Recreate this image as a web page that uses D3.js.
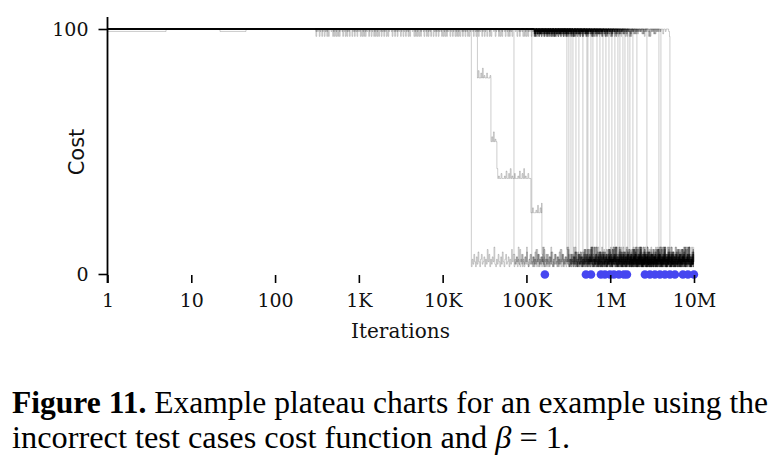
<!DOCTYPE html>
<html><head><meta charset="utf-8">
<script src="https://cdn.jsdelivr.net/npm/d3@7"></script>
<style>body{margin:0;background:#fff}svg{display:block}</style>
</head><body><svg id="c" width="771" height="462"></svg>
<script>
// ---------------- data ----------------
const xTickValues = [1, 10, 100, 1e3, 1e4, 1e5, 1e6, 1e7];
const xTickLabels = ["1", "10", "100", "1K", "10K", "100K", "1M", "10M"];
const yTickValues = [0, 100];
const maxIter = 1e7;
const noiseStart = 300;
const noiseSwitch = 120000;

// iteration at which each run leaves the ~100 plateau
const dropIters = [22000, 71000, 116000, 304000, 321000, 340000, 359000, 390000, 423000, 472000,
  527000, 542000, 589000, 622000, 695000, 754000, 819000, 889000, 966000, 1048000,
  1138000, 1236000, 1306000, 1418000, 1500000, 1626000, 1718000, 1866000, 2083000, 2743000,
  3814000, 4030000, 5160000];
// iteration at which each run hits cost 0 (null = never within 10M)
const solveIters = [513000, 589000, null, 775000, null, 865000, null, 993000, null, 1107000,
  null, 1270000, null, 1457000, null, 1583000, null, 2596000, null, 2979000,
  null, 3415000, null, 3918000, null, 4496000, null, 5160000, 5920000, 7370000,
  8460000, null, 9970000];
// per-run phase offsets into the texture arrays
const runPhase = [0, 41, 13, 77, 29, 58, 6, 90, 35, 71, 18, 52, 84, 3, 64, 25, 47, 11, 80, 38,
  60, 21, 95, 44, 9, 69, 31, 87, 15, 56, 74, 27, 49, 62];

// run with intermediate plateaus
const stepRunIters = [1, 26000, 37700, 44400, 113000, 153000];
const stepRunCosts = [100, 80, 54, 39, 25, 4];
const stepRunSolve = 166000;

// short early dips: [runIndex, fromIter, toIter, cost]
const earlyDips = [[3, 1, 5, 99], [7, 22, 45, 99]];

// observed fluctuation texture (cost units below 100 / above floor)
const topNoiseEarly = [0,0,0,0,0,0,0,0,0,0,0,0,1,0,0,0,0,0,0,0,0,0,0,0,0,0,0,0,0,0,0,0,0,0,0,0,0,0,0,0,0,0,0,0,0,0,0,0,0,0,0,0,0,0,0,0,0,0,0,0,0,0,0,0,0,0,0,0,0,0,0,0,0,0,0,0,0,0,0,0,0,0,0,0,0,3,0,0,0,0,0,0,0,0,0,0,0];
const topNoiseLate = [0,1,0,0,2,0,0,1,0,0,0,1,3,0,0,1,0,0,2,0,0,1,0];
const lowNoise = [3,6,4,8,5,3,7,4,9,5,3,6,8,4,5,7,3,6,4,10,5,8,3,6,4,7,5,11,4];
const plateauNoise = [0,0,1,0,3,0,0,2,0,4,0,1,0,0,2,0];

// ---------------- chart ----------------
const svg = d3.select("#c");
svg.append("rect").attr("width", 771).attr("height", 462).attr("fill", "#fff");

const x = d3.scaleLog().domain([1, 1e7]).range([107.5, 694]);
const y = d3.scaleLinear().domain([0, 100]).range([274, 29]);

const STEP = 0.01; // decades between samples
function sample(pts, a, b, fn) {
  for (let k = 0; ; k++) {
    const it = a * Math.pow(10, k * STEP);
    if (it >= b) break;
    pts.push([it, fn(k, it)]);
  }
}
function topVal(k, it, p) {
  const arr = it < noiseSwitch ? topNoiseEarly : topNoiseLate;
  return 100 - arr[(k + p) % arr.length];
}

const runs = [];
dropIters.forEach((drop, r) => {
  const p = runPhase[r];
  const pts = [[1, 100]];
  const dip = earlyDips.find(d => d[0] === r);
  if (dip) {
    if (dip[1] === 1) pts[0][1] = dip[3]; else pts.push([dip[1], dip[3]]);
    pts.push([dip[2], 100]);
  }
  sample(pts, noiseStart, drop, (k, it) => topVal(k, it, p));
  const end = solveIters[r] == null ? maxIter : solveIters[r];
  sample(pts, drop, end, k => lowNoise[(k + p) % lowNoise.length]);
  pts.push([end, pts[pts.length - 1][1]]);
  runs.push(pts);
});
// step run
{
  const p = runPhase[runPhase.length - 1];
  const pts = [[1, 100]];
  sample(pts, noiseStart, stepRunIters[1], (k, it) => topVal(k, it, p));
  for (let i = 1; i < stepRunIters.length; i++) {
    const a = stepRunIters[i];
    const b = i + 1 < stepRunIters.length ? stepRunIters[i + 1] : stepRunSolve;
    const base = stepRunCosts[i];
    if (i === stepRunIters.length - 1)
      sample(pts, a, b, k => lowNoise[(k + 3) % lowNoise.length]);
    else
      sample(pts, a, b, k => base + plateauNoise[(k + i * 3) % plateauNoise.length]);
  }
  pts.push([stepRunSolve, pts[pts.length - 1][1]]);
  runs.push(pts);
}

const line = d3.line().x(d => x(d[0])).y(d => y(d[1])).curve(d3.curveStepAfter);
svg.append("g").selectAll("path").data(runs).join("path")
  .attr("d", line)
  .attr("fill", "none")
  .attr("stroke", "#000")
  .attr("stroke-opacity", 0.2)
  .attr("stroke-width", 1);

// solved markers
const solved = solveIters.filter(v => v != null).concat([stepRunSolve]);
svg.append("g").selectAll("circle").data(solved).join("circle")
  .attr("cx", d => x(d)).attr("cy", y(0) + 0.5).attr("r", 4.3)
  .attr("fill", "#4646f0");

// axes
const xAxis = d3.axisBottom(x).tickValues(xTickValues)
  .tickFormat((d, i) => xTickLabels[i]).tickSize(8).tickPadding(11);
const gx = svg.append("g").attr("transform", `translate(0,${y(0)+1})`).call(xAxis);
gx.select(".domain").remove();
gx.selectAll(".tick line").attr("stroke", "#000").attr("stroke-width", 1.6);
gx.selectAll("text").attr("font-family", "DejaVu Serif").attr("font-size", 19).attr("fill", "#111");

const yAxis = d3.axisLeft(y).tickValues(yTickValues).tickSize(9).tickPadding(10);
const gy = svg.append("g").attr("transform", "translate(107.5,0)").call(yAxis);
gy.select(".domain").remove();
gy.selectAll(".tick line").attr("stroke", "#000").attr("stroke-width", 1.6);
gy.selectAll("text").attr("font-family", "DejaVu Serif").attr("font-size", 19).attr("fill", "#111");
svg.append("line").attr("x1", 107.5).attr("x2", 107.5).attr("y1", 17).attr("y2", 283)
  .attr("stroke", "#000").attr("stroke-width", 1.8);

svg.append("text").attr("x", 400.5).attr("y", 338).attr("text-anchor", "middle")
  .attr("font-family", "DejaVu Serif").attr("font-size", 20).attr("fill", "#111").text("Iterations");
svg.append("text").attr("transform", "translate(84,152) rotate(-90)").attr("text-anchor", "middle")
  .attr("font-family", "DejaVu Sans").attr("font-size", 21).attr("fill", "#111").text("Cost");

// caption
const capFs = 31;
const cap1 = svg.append("text").attr("x", 12).attr("y", 413)
  .attr("font-family", "Liberation Serif").attr("font-size", capFs).attr("fill", "#000")
  .attr("textLength", 756).attr("lengthAdjust", "spacingAndGlyphs");
cap1.append("tspan").attr("font-weight", "bold").text("Figure 11.");
cap1.append("tspan").text(" Example plateau charts for an example using the");
const cap2 = svg.append("text").attr("x", 12).attr("y", 448)
  .attr("font-family", "Liberation Serif").attr("font-size", capFs).attr("fill", "#000")
  .attr("textLength", 558).attr("lengthAdjust", "spacingAndGlyphs");
cap2.append("tspan").text("incorrect test cases cost function and ");
cap2.append("tspan").attr("font-style", "italic").text("β");
cap2.append("tspan").text(" = 1.");
</script></body></html>
